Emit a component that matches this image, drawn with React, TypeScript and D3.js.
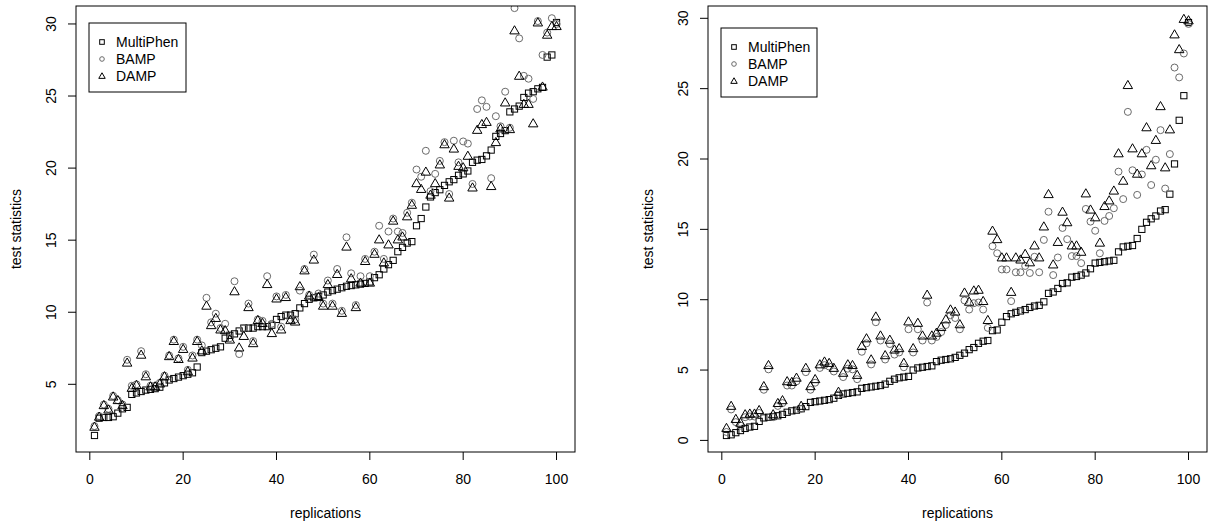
import React from 'react';
import * as d3 from 'd3';

// replications 1..100
const replications: number[] = d3.range(1, 101);

const seriesNames = ['MultiPhen', 'BAMP', 'DAMP'];
const xTickValues = [0, 20, 40, 60, 80, 100];
const xLabel = 'replications';
const yLabel = 'test statistics';

// ---------- left panel ----------
const leftMultiPhen = [1.45,2.65,2.7,2.7,2.75,3.0,3.3,3.4,4.3,4.4,
4.5,4.6,4.65,4.7,4.8,5.1,5.3,5.4,5.5,5.6,
5.7,5.8,6.2,7.2,7.3,7.4,7.5,7.6,8.2,8.4,
8.5,8.7,8.9,8.9,8.9,9.0,9.0,9.0,9.1,9.5,
9.7,9.8,9.8,9.9,10.3,10.6,10.9,11.0,11.1,11.2,
11.4,11.5,11.6,11.7,11.8,11.85,11.9,11.95,12.0,12.1,
12.4,12.6,13.0,13.3,13.6,14.2,14.5,14.8,14.9,16.0,
16.5,17.3,18.0,18.3,18.5,18.8,19.05,19.2,19.5,19.6,
19.8,20.4,20.55,20.6,20.85,21.25,22.2,22.4,22.6,23.9,
24.1,24.3,24.9,25.2,25.3,25.5,25.6,27.7,27.85,30.1];

const leftBAMP = [2.1,2.8,3.6,3.3,4.2,3.9,3.6,6.7,4.9,5.0,
7.3,5.7,4.9,4.9,5.1,5.6,7.0,8.1,6.8,7.6,
6.0,7.0,8.1,7.7,11.0,9.3,9.9,8.9,9.2,8.2,
12.15,7.1,8.9,10.6,8.0,9.5,9.4,12.5,9.2,11.1,
9.0,11.2,9.5,9.5,11.5,13.0,11.2,14.0,11.3,10.6,
12.2,10.6,13.0,10.1,15.2,12.7,10.5,12.5,13.7,12.5,
14.2,16.0,13.7,15.6,16.5,15.6,15.5,16.9,17.6,19.9,
19.4,21.2,18.4,19.6,20.5,21.8,18.2,21.9,20.4,21.85,
21.7,18.9,24.1,24.7,24.25,19.3,23.6,22.9,25.3,22.8,
31.1,29.0,26.4,26.2,24.8,30.2,27.85,29.4,30.4,30.0];

const leftDAMP = [2.0,2.7,3.5,3.2,4.1,3.85,3.5,6.45,4.7,4.9,
7.0,5.5,4.8,4.8,5.0,5.5,6.9,7.95,6.7,7.4,
5.85,6.8,7.95,7.3,10.4,9.05,9.55,8.75,8.7,8.05,
11.4,7.5,8.3,10.3,7.8,9.4,9.2,11.9,8.5,10.9,
8.75,11.0,9.4,9.3,11.75,12.85,11.1,13.6,11.0,10.4,
11.9,10.4,12.6,9.9,14.5,12.3,10.3,12.0,13.5,12.0,
14.0,15.0,13.4,14.65,16.3,15.0,15.2,16.6,17.4,18.9,
18.5,19.7,18.1,18.9,20.2,21.6,17.9,21.3,20.1,20.0,
20.8,18.6,22.6,23.0,23.15,18.7,21.75,22.7,24.5,22.65,
29.5,26.35,24.4,24.4,23.05,30.05,25.6,29.2,29.8,29.8];

// ---------- right panel ----------
const rightMultiPhen = [0.35,0.4,0.55,0.7,0.85,0.95,1.0,1.35,1.6,1.65,
1.7,1.75,1.85,2.0,2.1,2.15,2.25,2.4,2.7,2.75,
2.8,2.85,2.9,3.0,3.2,3.3,3.35,3.4,3.45,3.7,
3.75,3.8,3.85,3.9,4.0,4.2,4.35,4.45,4.5,4.55,
5.0,5.15,5.2,5.25,5.3,5.6,5.7,5.75,5.8,5.9,
6.05,6.2,6.45,6.6,6.9,7.05,7.1,7.8,7.85,8.4,
8.8,9.0,9.1,9.2,9.3,9.45,9.55,9.6,9.85,10.45,
10.55,10.8,11.15,11.2,11.6,11.65,11.75,11.9,12.2,12.6,
12.65,12.7,12.75,12.8,13.4,13.75,13.8,13.85,14.35,15.0,
15.5,15.75,15.95,16.3,16.4,17.5,19.65,22.75,24.5,29.7];

const rightBAMP = [0.6,2.2,1.3,1.05,1.65,1.7,1.7,1.95,3.6,5.05,
1.65,2.45,2.65,3.9,3.9,4.2,2.25,4.85,3.6,4.1,
5.15,5.35,5.25,4.9,3.25,4.5,5.1,5.05,4.35,6.3,
6.9,5.4,8.4,7.1,5.75,6.85,6.1,6.25,5.2,7.9,
6.25,7.9,7.1,9.8,7.1,7.35,7.7,8.2,8.9,8.7,
7.9,9.95,9.3,9.75,9.8,9.3,8.0,13.8,13.3,12.15,
12.15,9.9,11.95,11.95,12.4,11.9,13.05,11.95,14.25,16.25,
11.75,13.0,15.1,14.3,13.1,13.1,12.6,16.45,15.55,14.9,
13.3,15.6,15.95,16.5,19.1,17.15,23.35,19.2,17.45,18.9,
20.65,18.15,19.95,22.05,17.9,20.35,26.5,25.8,27.5,29.6];

const rightDAMP = [0.83,2.4,1.47,1.2,1.8,1.85,1.85,2.1,3.8,5.3,
1.8,2.6,2.8,4.15,4.1,4.4,2.4,5.1,3.8,4.3,
5.35,5.55,5.45,5.1,3.4,4.75,5.35,5.3,4.6,6.65,
7.2,5.7,8.75,7.4,6.0,7.1,6.4,6.5,5.45,8.4,
6.5,8.3,7.4,10.3,7.4,7.6,8.0,8.55,9.25,9.1,
8.2,10.45,9.8,10.6,10.65,9.85,8.5,14.85,14.25,12.95,
12.95,10.5,12.95,12.8,13.2,12.6,13.8,12.95,15.15,17.45,
12.45,14.05,16.2,15.45,13.8,13.8,13.35,17.5,16.35,15.8,
14.0,16.6,17.0,17.7,20.35,18.4,25.2,20.7,18.9,20.35,
22.2,19.5,21.3,23.7,19.35,22.05,28.8,27.75,29.9,29.8];

const FONT = '"Liberation Sans", Arial, Helvetica, sans-serif';
const GREY = '#6a6a6a';

// R-style symbols
function Square({ x, y, s }: { x: number; y: number; s: number }) {
  const h = 0.886 * s;
  return <rect x={x - h} y={y - h} width={2 * h} height={2 * h} fill="none" stroke="#000" strokeWidth={1} />;
}
function Circle({ x, y, s }: { x: number; y: number; s: number }) {
  return <circle cx={x} cy={y} r={s} fill="none" stroke={GREY} strokeWidth={1} />;
}
function Triangle({ x, y, s }: { x: number; y: number; s: number }) {
  const r = 1.5551 * s, xc = 1.3468 * s, yc = 0.7776 * s;
  const p = d3.path();
  p.moveTo(x, y - r);
  p.lineTo(x + xc, y + yc);
  p.lineTo(x - xc, y + yc);
  p.closePath();
  return <path d={p.toString()} fill="none" stroke="#000" strokeWidth={1} />;
}

function rDomain(vals: number[]): [number, number] {
  const [lo, hi] = d3.extent(vals) as [number, number];
  const e = 0.04 * (hi - lo);
  return [lo - e, hi + e];
}

interface PanelProps {
  id: string;
  left: number;
  right: number;
  top: number;
  bottom: number;
  mp: number[];
  bamp: number[];
  damp: number[];
  legendBox: { x: number; y: number; w: number; h: number };
}

function Panel({ id, left, right, top, bottom, mp, bamp, damp, legendBox }: PanelProps) {
  const xs = d3.scaleLinear().domain(rDomain(replications)).range([left, right]);
  const ys = d3.scaleLinear().domain(rDomain(mp)).range([bottom, top]);
  const yTicks = ys.ticks(6);
  const S = 3.5;
  const cy = (top + bottom) / 2;
  const cx = (left + right) / 2;
  const lx = legendBox.x + 13;
  const tx = legendBox.x + 27;
  const rowY = (k: number) => legendBox.y + 19 + k * 17;
  return (
    <g fontFamily={FONT} fontSize={14} fill="#000">
      <defs>
        <clipPath id={`clip-${id}`}>
          <rect x={left} y={top} width={right - left} height={bottom - top} />
        </clipPath>
      </defs>
      <g clipPath={`url(#clip-${id})`}>
        {replications.map((r, i) => <Square key={'m' + i} x={xs(r)} y={ys(mp[i])} s={S} />)}
        {replications.map((r, i) => <Circle key={'b' + i} x={xs(r)} y={ys(bamp[i])} s={S} />)}
        {replications.map((r, i) => <Triangle key={'d' + i} x={xs(r)} y={ys(damp[i])} s={S} />)}
      </g>
      <rect x={left} y={top} width={right - left} height={bottom - top} fill="none" stroke="#000" strokeWidth={1} />
      {/* x axis */}
      {xTickValues.map((t) => (
        <g key={'xt' + t}>
          <line x1={xs(t)} x2={xs(t)} y1={bottom} y2={bottom + 8} stroke="#000" />
          <text x={xs(t)} y={bottom + 27} textAnchor="middle" dominantBaseline="central">{t}</text>
        </g>
      ))}
      {/* y axis */}
      {yTicks.map((t) => (
        <g key={'yt' + t}>
          <line x1={left - 8} x2={left} y1={ys(t)} y2={ys(t)} stroke="#000" />
          <text transform={`translate(${left - 25},${ys(t)}) rotate(-90)`} textAnchor="middle" dominantBaseline="central">{t}</text>
        </g>
      ))}
      <text x={cx} y={bottom + 61} textAnchor="middle" dominantBaseline="central">{xLabel}</text>
      <text transform={`translate(${left - 60},${cy}) rotate(-90)`} textAnchor="middle" dominantBaseline="central">{yLabel}</text>
      {/* legend */}
      <rect x={legendBox.x} y={legendBox.y} width={legendBox.w} height={legendBox.h} fill="#fff" stroke="#000" strokeWidth={1} />
      <Square x={lx} y={rowY(0)} s={2.6} />
      <Circle x={lx} y={rowY(1)} s={2.3} />
      <Triangle x={lx} y={rowY(2) + 0.5} s={2.4} />
      {seriesNames.map((n, k) => (
        <text key={n} x={tx} y={rowY(k)} dominantBaseline="central">{n}</text>
      ))}
    </g>
  );
}

export default function App() {
  return (
    <svg width={1214} height={527} style={{ position: 'absolute', left: 0, top: 0, background: '#fff' }}>
      <rect width={1214} height={527} fill="#fff" />
      <Panel id="l" left={76} right={575} top={6} bottom={452}
        mp={leftMultiPhen} bamp={leftBAMP} damp={leftDAMP}
        legendBox={{ x: 89, y: 23, w: 97, h: 69 }} />
      <Panel id="r" left={708} right={1207} top={6} bottom={452}
        mp={rightMultiPhen} bamp={rightBAMP} damp={rightDAMP}
        legendBox={{ x: 721, y: 28, w: 96, h: 69 }} />
    </svg>
  );
}
